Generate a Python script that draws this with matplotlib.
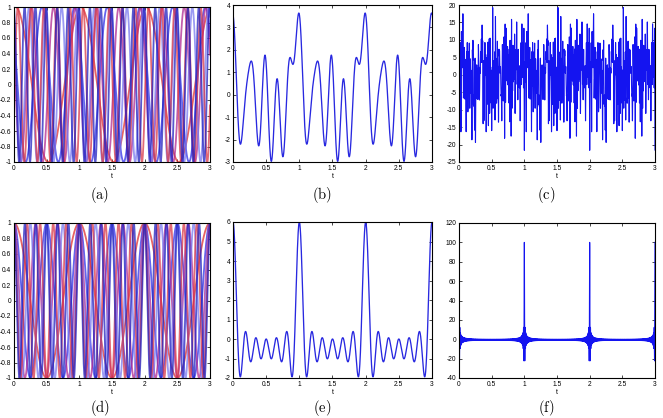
import numpy as np
import matplotlib
matplotlib.use("Agg")
import matplotlib.pyplot as plt

plt.rcParams['font.family'] = ['Liberation Sans', 'DejaVu Sans']
plt.rcParams['axes.unicode_minus'] = False
plt.rcParams['mathtext.fontset'] = 'cm'

# ---- data ----
t_range = [0, 3]
n_samples = 6001
freqs_small = [1, 2, 3, 4, 5, 6]
phases_small = [6.137, 0.902, 1.176, 0.506, 4.439, 0.182]  # radians, read from (a)/(b)
freqs_large = list(range(1, 101))
phase_c_pct = [14, 15, 92, 65, 35, 89, 79, 32, 38, 46,
               26, 43, 38, 32, 79, 50, 28, 84, 19, 71,
               69, 39, 93, 75, 10, 58, 20, 53, 49, 44,
               59, 23, 7, 81, 64, 44, 28, 62, 8, 51,
               86, 28, 47, 48, 25, 34, 21, 17, 44, 79,
               82, 14, 80, 86, 51, 32, 82, 30, 66, 47,
               9, 38, 44, 60, 55, 50, 58, 22, 31, 72,
               53, 59, 40, 81, 28, 48, 11, 17, 45, 48,
               84, 10, 27, 49, 93, 85, 21, 10, 55, 59,
               64, 46, 22, 56, 89, 54, 93, 47, 81, 54]  # percent of a cycle
x_ticks = [0, 0.5, 1, 1.5, 2, 2.5, 3]
x_ticklabels = ['0', '0.5', '1', '1.5', '2', '2.5', '3']
yticks_a = [-1, -0.8, -0.6, -0.4, -0.2, 0, 0.2, 0.4, 0.6, 0.8, 1]
yticklabels_a = ['-1', '-0.8', '-0.6', '-0.4', '-0.2', '0', '0.2', '0.4', '0.6', '0.8', '1']
yticks_b = [-3, -2, -1, 0, 1, 2, 3, 4]
yticks_c = [-25, -20, -15, -10, -5, 0, 5, 10, 15, 20]
yticks_e = [-2, -1, 0, 1, 2, 3, 4, 5, 6]
yticks_f = [-40, -20, 0, 20, 40, 60, 80, 100, 120]
captions = ['a', 'b', 'c', 'd', 'e', 'f']

t = np.linspace(t_range[0], t_range[1], n_samples)
ks = np.array(freqs_small)
kc = np.array(freqs_large)
ph_s = np.array(phases_small)
ph_c = np.array(phase_c_pct) * 2 * np.pi / 100

comp_a = np.cos(2 * np.pi * np.outer(t, ks) + ph_s)
comp_d = np.cos(2 * np.pi * np.outer(t, ks))
sig_b = comp_a.sum(axis=1)
sig_e = comp_d.sum(axis=1)
sig_c = np.cos(2 * np.pi * np.outer(t, kc) + ph_c).sum(axis=1)
sig_f = np.cos(2 * np.pi * np.outer(t, kc)).sum(axis=1)

comp_colors = ['#e03030', '#3030e8', '#b02890', '#7878f0', '#d83848', '#2020c0']

W, H = 663, 418
fig = plt.figure(figsize=(W / 100, H / 100), dpi=100)


def make_ax(l, r, top, bot, yticks, ylabels, ylim):
    ax = fig.add_axes([l / W, 1 - bot / H, (r - l) / W, (bot - top) / H])
    ax.set_xlim(0, 3)
    ax.set_ylim(*ylim)
    ax.set_xticks(x_ticks)
    ax.set_xticklabels(x_ticklabels)
    ax.set_yticks(yticks)
    ax.set_yticklabels(ylabels)
    ax.tick_params(direction='in', length=2.5, width=0.5, labelsize=4.8, pad=2,
                   top=True, right=True)
    for s in ax.spines.values():
        s.set_linewidth(0.8)
    ax.set_xlabel('t', fontsize=5, labelpad=1)
    return ax


ax_a = make_ax(14, 210, 7, 162, yticks_a, yticklabels_a, (-1, 1))
for i in range(len(freqs_small)):
    ax_a.plot(t, comp_a[:, i], color=comp_colors[i], lw=1.3, alpha=0.75)

ax_b = make_ax(233, 432, 5, 162, yticks_b, [str(v) for v in yticks_b], (-3, 4))
ax_b.plot(t, sig_b, color='#2828e0', lw=0.95)

ax_c = make_ax(459, 655, 5, 162, yticks_c, [str(v) for v in yticks_c], (-25, 20))
ax_c.plot(t, sig_c, color='#1414f0', lw=0.8)

ax_d = make_ax(14, 210, 223, 378, yticks_a, yticklabels_a, (-1, 1))
for i in range(len(freqs_small)):
    ax_d.plot(t, comp_d[:, i], color=comp_colors[i], lw=1.3, alpha=0.75)

ax_e = make_ax(233, 432, 222, 378, yticks_e, [str(v) for v in yticks_e], (-2, 6))
ax_e.plot(t, sig_e, color='#2828e0', lw=0.95)

ax_f = make_ax(459, 655, 223, 378, yticks_f, [str(v) for v in yticks_f], (-40, 120))
ax_f.plot(t, sig_f, color='#1414f0', lw=0.8)

cap_pos = [(100, 195), (322, 195), (546, 195), (100, 408), (322, 408), (546, 408)]
for (x, y), c in zip(cap_pos, captions):
    fig.text(x / W, 1 - y / H, r'$(\mathrm{' + c + r'})$', fontsize=10.5,
             ha='center', va='center')

fig.savefig('out.png', dpi=100)
